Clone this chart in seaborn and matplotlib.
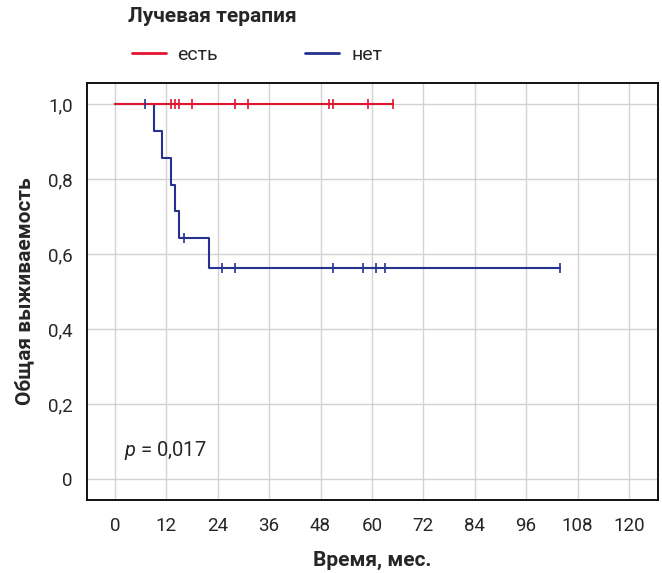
import numpy as np
import pandas as pd
import matplotlib
matplotlib.use("Agg")
import matplotlib.pyplot as plt
import seaborn as sns
from matplotlib.lines import Line2D

# follow-up times (months) and events (1 = death, 0 = censored)
times_yes = [13, 14, 15, 18, 28, 31, 50, 51, 59, 65]
events_yes = [0, 0, 0, 0, 0, 0, 0, 0, 0, 0]
times_no = [7, 9, 11, 13, 14, 15, 16, 22, 25, 28, 51, 58, 61, 63, 104]
events_no = [0, 1, 1, 1, 1, 1, 0, 1, 0, 0, 0, 0, 0, 0, 0]

groups = ["есть", "нет"]
colors = {"есть": "#e3142f", "нет": "#24318f"}
x_ticks = [0, 12, 24, 36, 48, 60, 72, 84, 96, 108, 120]
y_ticks = [0, 0.2, 0.4, 0.6, 0.8, 1.0]
y_labels = ["0", "0,2", "0,4", "0,6", "0,8", "1,0"]


def km(times, events):
    t = np.array(times, dtype=float)
    e = np.array(events)
    order = np.argsort(t, kind="stable")
    t, e = t[order], e[order]
    n = len(t)
    s = 1.0
    xs, ys = [0.0], [1.0]
    cens_x, cens_y = [], []
    for i in range(n):
        at_risk = n - i
        if e[i] == 1:
            s = s * (at_risk - 1) / at_risk
            xs.append(t[i]); ys.append(s)
        else:
            cens_x.append(t[i]); cens_y.append(s)
    xs.append(t[-1]); ys.append(s)
    return xs, ys, cens_x, cens_y


curves = []
cens = []
for g, tt, ee in [("нет", times_no, events_no), ("есть", times_yes, events_yes)]:
    xs, ys, cx, cy = km(tt, ee)
    curves.append(pd.DataFrame({"t": xs, "s": ys, "g": g, "o": range(len(xs))}))
    cens.append(pd.DataFrame({"t": cx, "s": cy, "g": g}))
curves = pd.concat(curves)
cens = pd.concat(cens)

sns.set_style("white")
plt.rcParams["font.family"] = ["Roboto", "DejaVu Sans"]
plt.rcParams["mathtext.fontset"] = "custom"
plt.rcParams["mathtext.it"] = "Roboto:italic"

fig = plt.figure(figsize=(6.62, 5.73), dpi=100)
ax = fig.add_axes([0.131, 0.1274, 0.863, 0.7276])

for g, z in [("нет", 3), ("есть", 4)]:
    d = curves[curves.g == g]
    sns.lineplot(data=d, x="t", y="s", color=colors[g], drawstyle="steps-post",
                 sort=False, estimator=None, linewidth=1.5, ax=ax, zorder=z)
for g, z in [("есть", 5), ("нет", 6)]:
    d = cens[cens.g == g]
    ax.scatter(d.t, d.s, marker="|", s=45, linewidths=1.2, color=colors[g], zorder=z)

ax.set_xlim(-6.6, 126.8)
ax.set_ylim(-0.055, 1.056)
ax.set_xticks(x_ticks)
ax.set_xticklabels([str(v) for v in x_ticks], fontsize=13.5)
ax.set_yticks(y_ticks)
ax.set_yticklabels(y_labels, fontsize=13.5)
ax.grid(True, color="#d3d3d3", linewidth=1)
ax.tick_params(direction="out", length=6, width=1.3, color="#111111", pad=4)
ax.tick_params(axis="x", pad=6)
for sp in ax.spines.values():
    sp.set_color("#111111")
    sp.set_linewidth(1.4)

ax.set_xlabel("Время, мес.", fontsize=15, fontweight="bold", labelpad=12)
ax.set_ylabel("Общая выживаемость", fontsize=15, fontweight="bold", labelpad=10)

ax.text(2.1, 0.078, r"$p$ = 0,017", fontsize=14.5, va="center", ha="left")

fig.text(128 / 662, 1 - 17 / 573, "Лучевая терапия", fontsize=15,
         fontweight="bold", va="center", ha="left")
handles = [Line2D([], [], color=colors[g], linewidth=2) for g in groups]
fig.legend(handles, groups, loc="center left", bbox_to_anchor=(114 / 662, 1 - 55 / 573),
           ncol=2, frameon=False, fontsize=14, handlelength=1.75,
           handletextpad=0.6, columnspacing=4.5)

fig.savefig("out.png", dpi=100)
